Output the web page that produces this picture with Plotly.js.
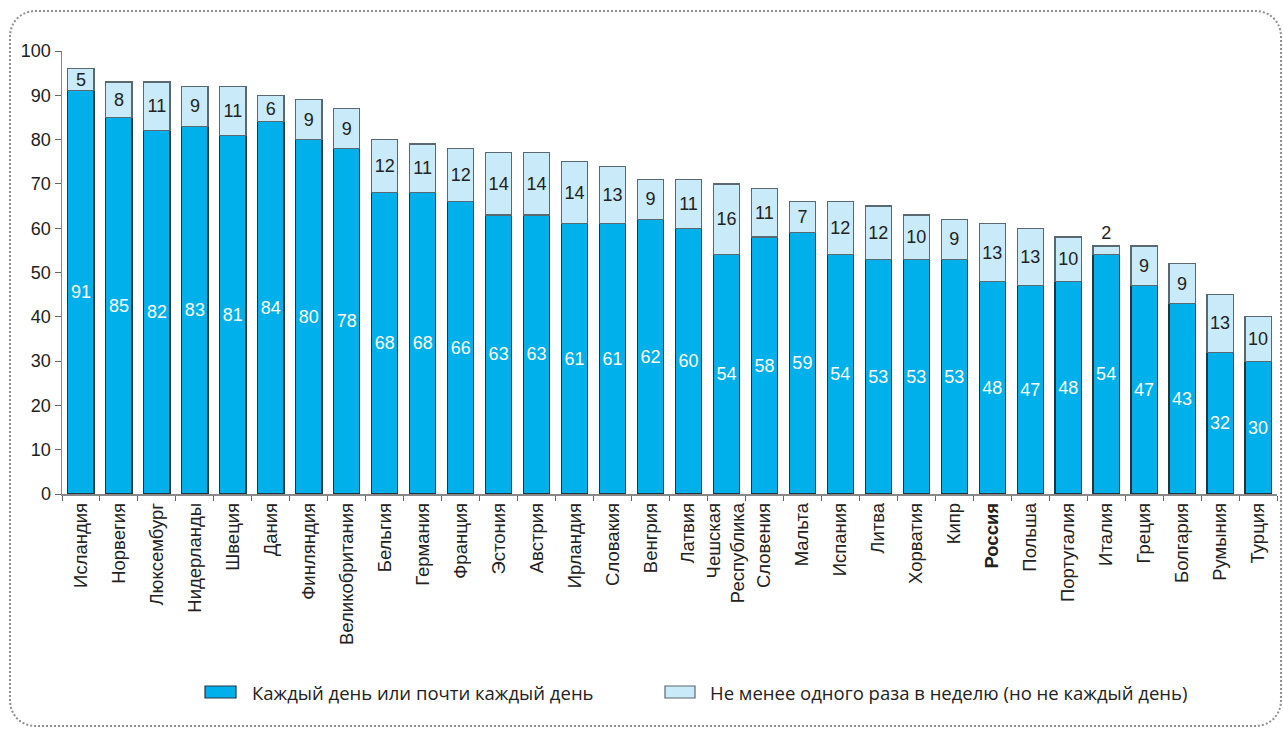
<!DOCTYPE html>
<html><head><meta charset="utf-8">
<script src="https://cdn.plot.ly/plotly-3.0.1.min.js"></script>
<style>
html,body{margin:0;padding:0;background:#fff;}
#wrap{position:relative;width:1283px;height:729px;overflow:hidden;}
#chart{position:absolute;left:0;top:0;width:1283px;height:729px;}
#frame{position:absolute;left:9px;top:10px;width:1273px;height:717px;border:2px dotted #8f8f8f;border-radius:26px;pointer-events:none;box-sizing:border-box;}
</style></head>
<body><div id="wrap"><div id="chart"></div><div id="frame"></div></div>
<script>
const countries = ["Исландия","Норвегия","Люксембург","Нидерланды","Швеция","Дания","Финляндия","Великобритания","Бельгия","Германия","Франция","Эстония","Австрия","Ирландия","Словакия","Венгрия","Латвия","Чешская<br>Республика","Словения","Мальта","Испания","Литва","Хорватия","Кипр","<b>Россия</b>","Польша","Португалия","Италия","Греция","Болгария","Румыния","Турция"];
const daily = [91,85,82,83,81,84,80,78,68,68,66,63,63,61,61,62,60,54,58,59,54,53,53,53,48,47,48,54,47,43,32,30];
const weekly = [5,8,11,9,11,6,9,9,12,11,12,14,14,14,13,9,11,16,11,7,12,12,10,9,13,13,10,2,9,9,13,10];
const seriesNames = ["Каждый день или почти каждый день","Не менее одного раза в неделю (но не каждый день)"];
const seriesColors = ["#00b0ea","#c9ebf9"];
const seriesLines = ["#23343c","#5a6870"];

const narrow = "'Liberation Sans Narrow','Liberation Sans',Arial,sans-serif";
const weeklyPos = weekly.map(v => v < 4 ? "outside" : "inside");

const traces = [
  {type:"bar", name:seriesNames[0], x:countries, y:daily, showlegend:false,
   text:daily.map(String), textposition:"inside", insidetextanchor:"middle", textangle:0,
   constraintext:"none",
   textfont:{family:narrow, size:18, color:"#ffffff"},
   marker:{color:seriesColors[0], line:{color:seriesLines[0], width:1.2}}, hoverinfo:"y"},
  {type:"bar", name:seriesNames[1], x:countries, y:weekly, showlegend:false,
   text:weekly.map(String), textposition:weeklyPos, insidetextanchor:"middle", textangle:0,
   constraintext:"none", cliponaxis:false,
   textfont:{family:narrow, size:18, color:"#222222"},
   outsidetextfont:{family:narrow, size:18, color:"#222222"},
   marker:{color:seriesColors[1], line:{color:seriesLines[1], width:1.2}}, hoverinfo:"y"}
];

// plot area in pixels
const M = {l:62, r:6, t:51, b:235};
const W = 1283, H = 729;
const pw = W - M.l - M.r, ph = H - M.t - M.b;
const px = x => (x - M.l) / pw;
const py = y => (H - M.b - y) / ph;

// manual legend (symbol rectangles + real text)
const legendItems = [
  {x0:205, x1:236, tx:250},
  {x0:665, x1:695, tx:708}
];
const legY0 = 686, legY1 = 698, legYc = 692;
const shapes = legendItems.map((it, i) => ({
  type:"rect", xref:"paper", yref:"paper",
  x0:px(it.x0), x1:px(it.x1), y0:py(legY1), y1:py(legY0),
  fillcolor:seriesColors[i], line:{color:seriesLines[i], width:1.2}
}));
const annotations = legendItems.map((it, i) => ({
  xref:"paper", yref:"paper", x:px(it.tx), y:py(legYc), xanchor:"left", yanchor:"middle",
  text:seriesNames[i], showarrow:false,
  font:{family:"'Open Sans','DejaVu Sans',sans-serif", size:18.5, color:"#222"}
}));

const layout = {
  width:W, height:H,
  barmode:"stack", bargap:0.31,
  margin:M,
  paper_bgcolor:"#ffffff", plot_bgcolor:"#ffffff",
  font:{family:"'Liberation Sans',Arial,sans-serif", color:"#222"},
  showlegend:false,
  shapes:shapes, annotations:annotations,
  xaxis:{type:"category", tickangle:-90, tickson:"boundaries", ticks:"outside", ticklen:5,
    tickcolor:"#666", showline:true, linecolor:"#888", linewidth:1.5, showgrid:false,
    tickfont:{family:narrow, size:18.5, color:"#222"}},
  yaxis:{range:[0,100], dtick:10, ticks:"outside", ticklen:6, tickcolor:"#666",
    showline:true, linecolor:"#888", linewidth:1.5, showgrid:false, zeroline:false,
    tickfont:{family:narrow, size:18, color:"#222"}}
};
Plotly.newPlot("chart", traces, layout, {displayModeBar:false, staticPlot:true});
</script></body></html>
